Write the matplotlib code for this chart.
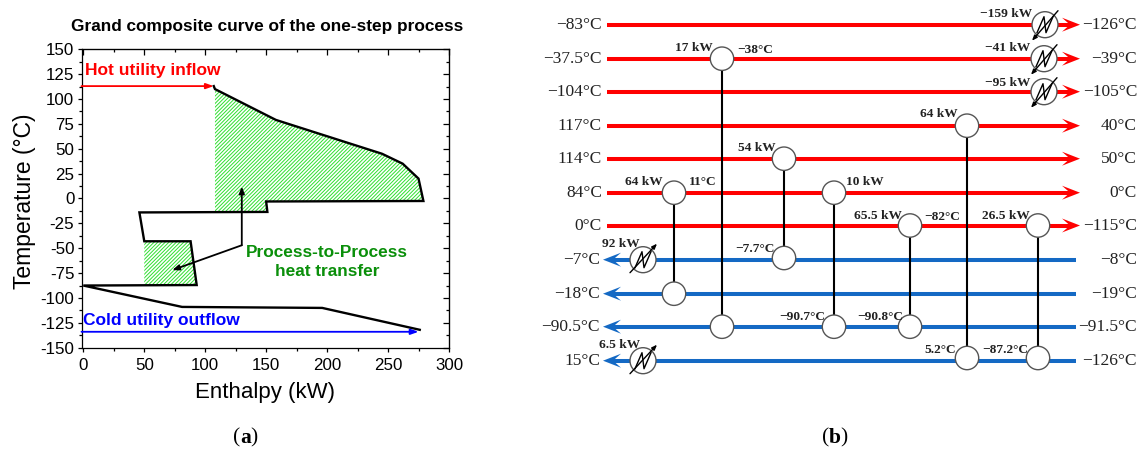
"""Grand composite curve (a) and heat exchanger network (b) of the one-step process."""
import numpy as np
import matplotlib
matplotlib.use("Agg")
import matplotlib.pyplot as plt
from matplotlib.patches import Circle, Polygon
from matplotlib.ticker import MultipleLocator

SANS = "Liberation Sans"
SERIF = "Liberation Serif"
RED = "#ff0000"
BLUE = "#1469c4"
GREEN_HATCH = "#2ee02e"

# panel a
curve_h = [107, 108, 158, 245, 262, 275, 279, 150, 151, 46, 50, 88, 93, 0, 81, 196, 276]
curve_t = [113, 110, 79, 45, 35, 20, -2.5, -3, -13.5, -14, -43, -43, -87, -87.5, -109, -110, -132]
upper_h = [108, 158, 245, 262, 275, 279, 150, 151, 108]
upper_t = [110, 79, 45, 35, 20, -2.5, -3, -13.5, -13.5]
lower_h = [50, 88, 93, 50]
lower_t = [-43, -43, -87, -87]
hot_utility_t = 113
cold_utility_t = -134

# panel b
hot_in = ["−83°C", "−37.5°C", "−104°C", "117°C", "114°C", "84°C", "0°C"]
hot_out = ["−126°C", "−39°C", "−105°C", "40°C", "50°C", "0°C", "−115°C"]
hot_y = [24.7, 58.7, 91.7, 125.7, 158.7, 192.7, 225.5]
cold_out = ["−7°C", "−18°C", "−90.5°C", "15°C"]
cold_in = ["−8°C", "−19°C", "−91.5°C", "−126°C"]
cold_y = [259.7, 293.7, 326.7, 360.7]

match_x = [722, 784, 674, 834, 910, 967, 1038]
match_top = [58.7, 158.7, 192.7, 192.7, 225.5, 125.7, 225.5]
match_bottom = [326.7, 258, 293.7, 326.7, 326.7, 358, 358]

cooler_x = [1045, 1044, 1044]
cooler_y = [24.7, 58.7, 91.7]
heater_x = [643, 643]
heater_y = [259.7, 360.7]

notes_right = [
    ("17 kW", 713, 48), ("54 kW", 776, 148), ("64 kW", 663, 182),
    ("−159 kW", 1032, 14), ("−41 kW", 1030, 48), ("−95 kW", 1030, 83),
    ("64 kW", 958, 114), ("65.5 kW", 902, 216), ("26.5 kW", 1030, 216),
    ("92 kW", 640, 244), ("−7.7°C", 775, 249), ("−90.7°C", 825, 317),
    ("6.5 kW", 640, 345), ("−90.8°C", 903, 317), ("5.2°C", 956, 350),
    ("−87.2°C", 1028, 350),
]
notes_left = [("−38°C", 737, 50), ("11°C", 689, 182), ("10 kW", 846, 182), ("−82°C", 924, 217)]

plt.rcParams["hatch.linewidth"] = 0.7
plt.rcParams["axes.unicode_minus"] = False
plt.rcParams["font.family"] = SANS

fig = plt.figure(figsize=(11.4, 4.5), dpi=100)

# panel a
ax = fig.add_axes([81.5 / 1140, 1 - 347.7 / 450, (449 - 81.5) / 1140, (347.7 - 49.3) / 450])
ax.set_xlim(-1.5, 300)
ax.set_ylim(-150, 150)
ax.fill(upper_h, upper_t, facecolor="white", edgecolor=GREEN_HATCH, hatch="/////////", linewidth=0)
ax.fill(lower_h, lower_t, facecolor="white", edgecolor=GREEN_HATCH, hatch="/////////", linewidth=0)
ax.plot(curve_h, curve_t, color="black", lw=1.7, solid_joinstyle="miter")
ax.annotate("", xy=(107, hot_utility_t), xytext=(-1.5, hot_utility_t),
            arrowprops=dict(arrowstyle="-|>,head_length=0.45,head_width=0.16", color=RED, lw=1.3,
                            shrinkA=0, shrinkB=0))
ax.annotate("", xy=(275, cold_utility_t), xytext=(-1.5, cold_utility_t),
            arrowprops=dict(arrowstyle="-|>,head_length=0.45,head_width=0.16", color="#0000ff", lw=1.3,
                            shrinkA=0, shrinkB=0))
ax.annotate("", xy=(130, 12), xytext=(130, -47),
            arrowprops=dict(arrowstyle="-|>,head_length=0.4,head_width=0.16", color="black", lw=1.3,
                            shrinkA=0, shrinkB=0))
ax.annotate("", xy=(73, -72), xytext=(130, -47),
            arrowprops=dict(arrowstyle="-|>,head_length=0.4,head_width=0.16", color="black", lw=1.3,
                            shrinkA=0, shrinkB=0))
ax.text(1, 129, "Hot utility inflow", color=RED, fontsize=12.5, fontweight="bold", va="center")
ax.text(-0.5, -123, "Cold utility outflow", color="#0000ff", fontsize=12.5, fontweight="bold", va="center")
ax.text(200, -64, "Process-to-Process\nheat transfer", color="#0a8f0a", fontsize=12.4, fontweight="bold",
        ha="center", va="center", linespacing=1.35)

ax.xaxis.set_major_locator(MultipleLocator(50))
ax.xaxis.set_minor_locator(MultipleLocator(25))
ax.yaxis.set_major_locator(MultipleLocator(25))
ax.yaxis.set_minor_locator(MultipleLocator(12.5))
ax.tick_params(which="major", length=3.2, width=0.9, labelsize=12.2, pad=2)
ax.tick_params(which="minor", length=2, width=0.9)
ax.tick_params(axis="x", which="major", pad=4)
# mirrored ticks on top and right point inwards
top = ax.secondary_xaxis("top")
top.set_xticks(np.arange(0, 301, 50))
top.set_xticks(np.arange(25, 300, 50), minor=True)
top.tick_params(which="major", direction="in", length=4, width=0.9, labeltop=False)
top.tick_params(which="minor", direction="in", length=2.2, width=0.9)
right = ax.secondary_yaxis("right")
right.set_yticks(np.arange(-150, 151, 25))
right.set_yticks(np.arange(-137.5, 150, 25), minor=True)
right.tick_params(which="major", direction="in", length=4, width=0.9, labelright=False)
right.tick_params(which="minor", direction="in", length=2.2, width=0.9)
for side in ax.spines.values():
    side.set_linewidth(0.9)
ax.set_xlabel("Enthalpy (kW)", fontsize=16, labelpad=7)
ax.set_ylabel("Temperature (°C)", fontsize=16.5, labelpad=3, y=0.49)
fig.text(267.5 / 1140, 1 - 27 / 450, "Grand composite curve of the one-step process", fontsize=12.4,
         fontweight="bold", ha="center", va="center")

# panel b is a schematic, laid out in figure pixels
net = fig.add_axes([0, 0, 1, 1], facecolor="none")
net.set_xlim(0, 1140)
net.set_ylim(450, 0)
net.axis("off")


def stream_head(tip, y, direction, color):
    # barbed arrow head, direction +1 points right
    net.add_patch(Polygon([(tip, y), (tip - direction * 18, y - 7), (tip - direction * 10, y),
                           (tip - direction * 18, y + 7)], closed=True, color=color, lw=0, zorder=3))


def exchanger(x, y, r=13, cold=False):
    net.add_patch(Circle((x, y), r, facecolor="white", edgecolor="#555555", lw=1, zorder=5))
    net.plot([x - 8, x - 1, x + 1, x + 8], [y + 8, y - 8, y + 8, y - 8], color="black", lw=1, zorder=6)
    if cold:
        net.annotate("", xy=(x + 14, y - 16), xytext=(x - 13, y + 13), zorder=7,
                     arrowprops=dict(arrowstyle="-|>,head_length=0.3,head_width=0.12", color="black", lw=1,
                                     shrinkA=0, shrinkB=0))
    else:
        net.annotate("", xy=(x - 13, y + 16), xytext=(x + 13, y - 14), zorder=7,
                     arrowprops=dict(arrowstyle="-|>,head_length=0.3,head_width=0.12", color="black", lw=1,
                                     shrinkA=0, shrinkB=0))


for y, start, end in zip(hot_y, hot_in, hot_out):
    net.plot([607, 1070], [y, y], color=RED, lw=2.9, solid_capstyle="butt", zorder=2)
    stream_head(1080, y, 1, RED)
    net.text(602, y, start, family=SERIF, fontsize=12.5, color="#222222", ha="right", va="center")
    net.text(1137, y, end, family=SERIF, fontsize=12.5, color="#222222", ha="right", va="center")

for y, start, end in zip(cold_y, cold_in, cold_out):
    net.plot([1076, 612], [y, y], color=BLUE, lw=2.9, solid_capstyle="butt", zorder=2)
    stream_head(603, y, -1, BLUE)
    net.text(1137, y, start, family=SERIF, fontsize=12.5, color="#222222", ha="right", va="center")
    net.text(600, y, end, family=SERIF, fontsize=12.5, color="#222222", ha="right", va="center")

for x, y0, y1 in zip(match_x, match_top, match_bottom):
    net.plot([x, x], [y0, y1], color="black", lw=1.5, zorder=4)
    for y in (y0, y1):
        net.add_patch(Circle((x, y), 11.7, facecolor="white", edgecolor="#555555", lw=1, zorder=5))

for x, y in zip(cooler_x, cooler_y):
    exchanger(x, y)
for x, y in zip(heater_x, heater_y):
    exchanger(x, y, cold=True)

for text, x, y in notes_right:
    net.text(x, y, text, family=SERIF, fontsize=9.6, fontweight="bold", color="#222222",
             ha="right", va="center", zorder=8)
for text, x, y in notes_left:
    net.text(x, y, text, family=SERIF, fontsize=9.6, fontweight="bold", color="#222222",
             ha="left", va="center", zorder=8)

net.text(240, 438, "(", family=SERIF, fontsize=15.5, ha="right", va="center")
net.text(240, 438, "a", family=SERIF, fontsize=15.5, fontweight="bold", ha="left", va="center")
net.text(250, 438, ")", family=SERIF, fontsize=15.5, ha="left", va="center")
net.text(829, 438, "(", family=SERIF, fontsize=15.5, ha="right", va="center")
net.text(829, 438, "b", family=SERIF, fontsize=15.5, fontweight="bold", ha="left", va="center")
net.text(840, 438, ")", family=SERIF, fontsize=15.5, ha="left", va="center")

fig.savefig("out.png", dpi=100)
